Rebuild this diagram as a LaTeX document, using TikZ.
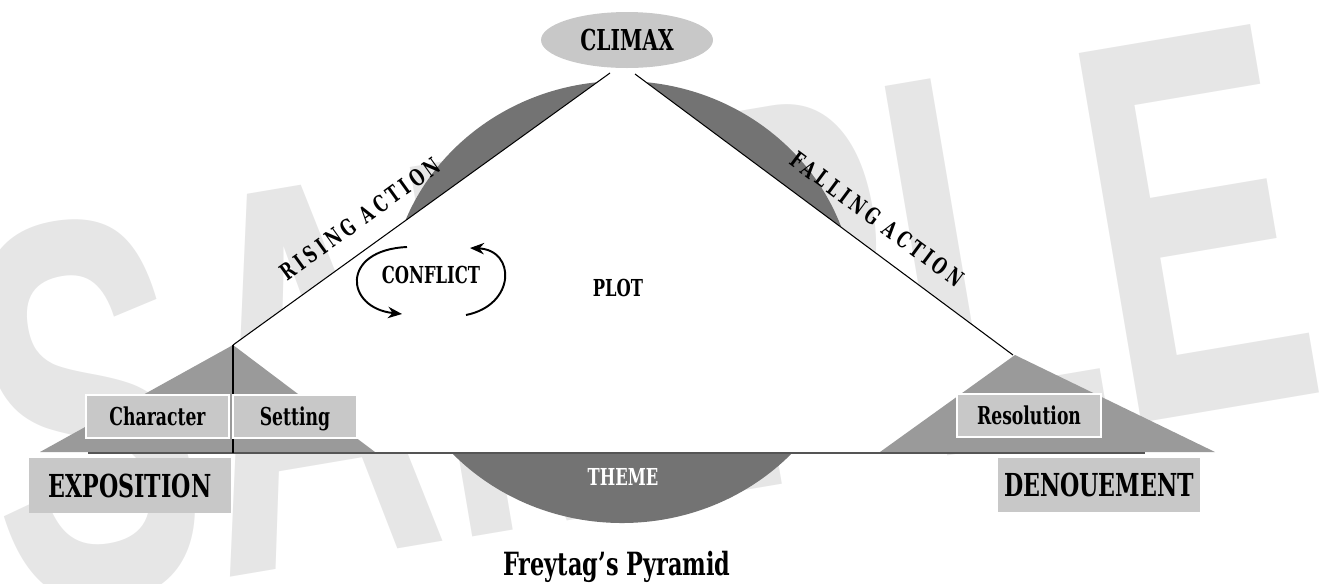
\documentclass[tikz,border=0pt]{standalone}
\usepackage{fontspec}
\setmainfont{DejaVu Serif}[FakeStretch=0.7]
\newfontfamily\slopefont{DejaVu Serif}[FakeStretch=0.7, LetterSpace=18]
\newfontfamily\wmfont{Liberation Sans}[FakeStretch=0.59]
\usetikzlibrary{arrows.meta,shapes.geometric}

\definecolor{boxgray}{HTML}{C8C8C8}
\definecolor{wedgegray}{HTML}{9A9A9A}
\definecolor{themegray}{HTML}{737373}
\definecolor{markgray}{HTML}{E6E6E6}
\definecolor{basegray}{HTML}{555555}

\tikzset{
	tagbox/.style={fill=boxgray, draw=white, line width=1.1pt, inner sep=0pt,
		text height=10.2pt, text depth=0pt, minimum height=0.86cm,
		font=\bfseries\fontsize{14}{16}\selectfont},
	stagebox/.style={fill=boxgray, inner sep=0pt, text height=13.1pt, text depth=0pt,
		minimum width=4.04cm, minimum height=1.09cm,
		font=\bfseries\fontsize{18}{20}\selectfont},
	slopetext/.style={inner sep=0pt, font=\slopefont\bfseries\fontsize{13}{15}\selectfont},
	plaintext/.style={inner sep=0pt, font=\bfseries\fontsize{13.3}{15}\selectfont},
	turn/.style={line width=1.1pt, -{Stealth[length=8pt,width=6.5pt]}}
}

\begin{document}
\begin{tikzpicture}[x=0.02cm, y=-0.02cm]
	\useasboundingbox (0,0) rectangle (1325,583);

	% watermark
	\node[rotate=9.6, text=markgray, inner sep=0pt, font=\wmfont\bfseries\fontsize{310}{310}\selectfont] (mark) at (640,318) {SAMPLE};

	% theme disc behind the pyramid
	\fill[themegray] (622,302) ellipse [x radius=233, y radius=221];

	\coordinate (apex) at (622,64);
	\coordinate (lfoot) at (233,345);
	\coordinate (rfoot) at (1013,355);
	\fill[white] (apex) -- (rfoot) -- (1013,453) -- (233,453) -- (lfoot) -- cycle; % plot area
	\draw[line width=0.6pt] (610,73) -- (lfoot);
	\draw[line width=0.6pt] (635,74) -- (rfoot);

	% side wedges
	\fill[wedgegray] (lfoot) -- (375,452) -- (40,452) -- cycle;
	\fill[wedgegray] (1015,355) -- (1215,452) -- (880,452) -- cycle;
	\draw[basegray, line width=1.2pt] (88,453) -- (1145,453); % base
	\draw[line width=1.2pt] (lfoot) -- (233,453);

	\node[ellipse, fill=boxgray, inner sep=0pt, minimum width=3.44cm, minimum height=1.12cm,
		font=\bfseries\fontsize{16.4}{18}\selectfont] (climax) at (627,40) {CLIMAX};

	\node[tagbox, minimum width=2.86cm] (character) at (157.5,416.5) {Character};
	\node[tagbox, minimum width=2.48cm] (setting) at (295,416.5) {Setting};
	\node[tagbox, minimum width=2.88cm] (resolution) at (1029,415.5) {Resolution};
	\node[stagebox] (exposition) at (130,485.5) {EXPOSITION};
	\node[stagebox] (denouement) at (1099,485) {DENOUEMENT};

	\node[slopetext, rotate=35.8] (rising) at (360,219) {RISING ACTION};
	\node[slopetext, rotate=-36.6] (falling) at (877,219) {FALLING ACTION};

	\node[plaintext] (plot) at (618,287.5) {PLOT};
	\node[plaintext] (conflict) at (431,275) {CONFLICT};
	\node[plaintext, text=white] (theme) at (623,477) {THEME};

	% conflict loop
	\coordinate (la) at (407,247);
	\coordinate (lb) at (402,314);
	\coordinate (ra) at (466,315);
	\coordinate (rb) at (470,248);
	\draw[turn] (la) .. controls (340,250) and (345,308) .. (lb);
	\draw[turn] (ra) .. controls (516,305) and (516,250) .. (rb);

	\node[inner sep=0pt, anchor=base, font=\bfseries\fontsize{18.2}{20}\selectfont] (title) at (617,575) {Freytag’s Pyramid};
\end{tikzpicture}
\end{document}
